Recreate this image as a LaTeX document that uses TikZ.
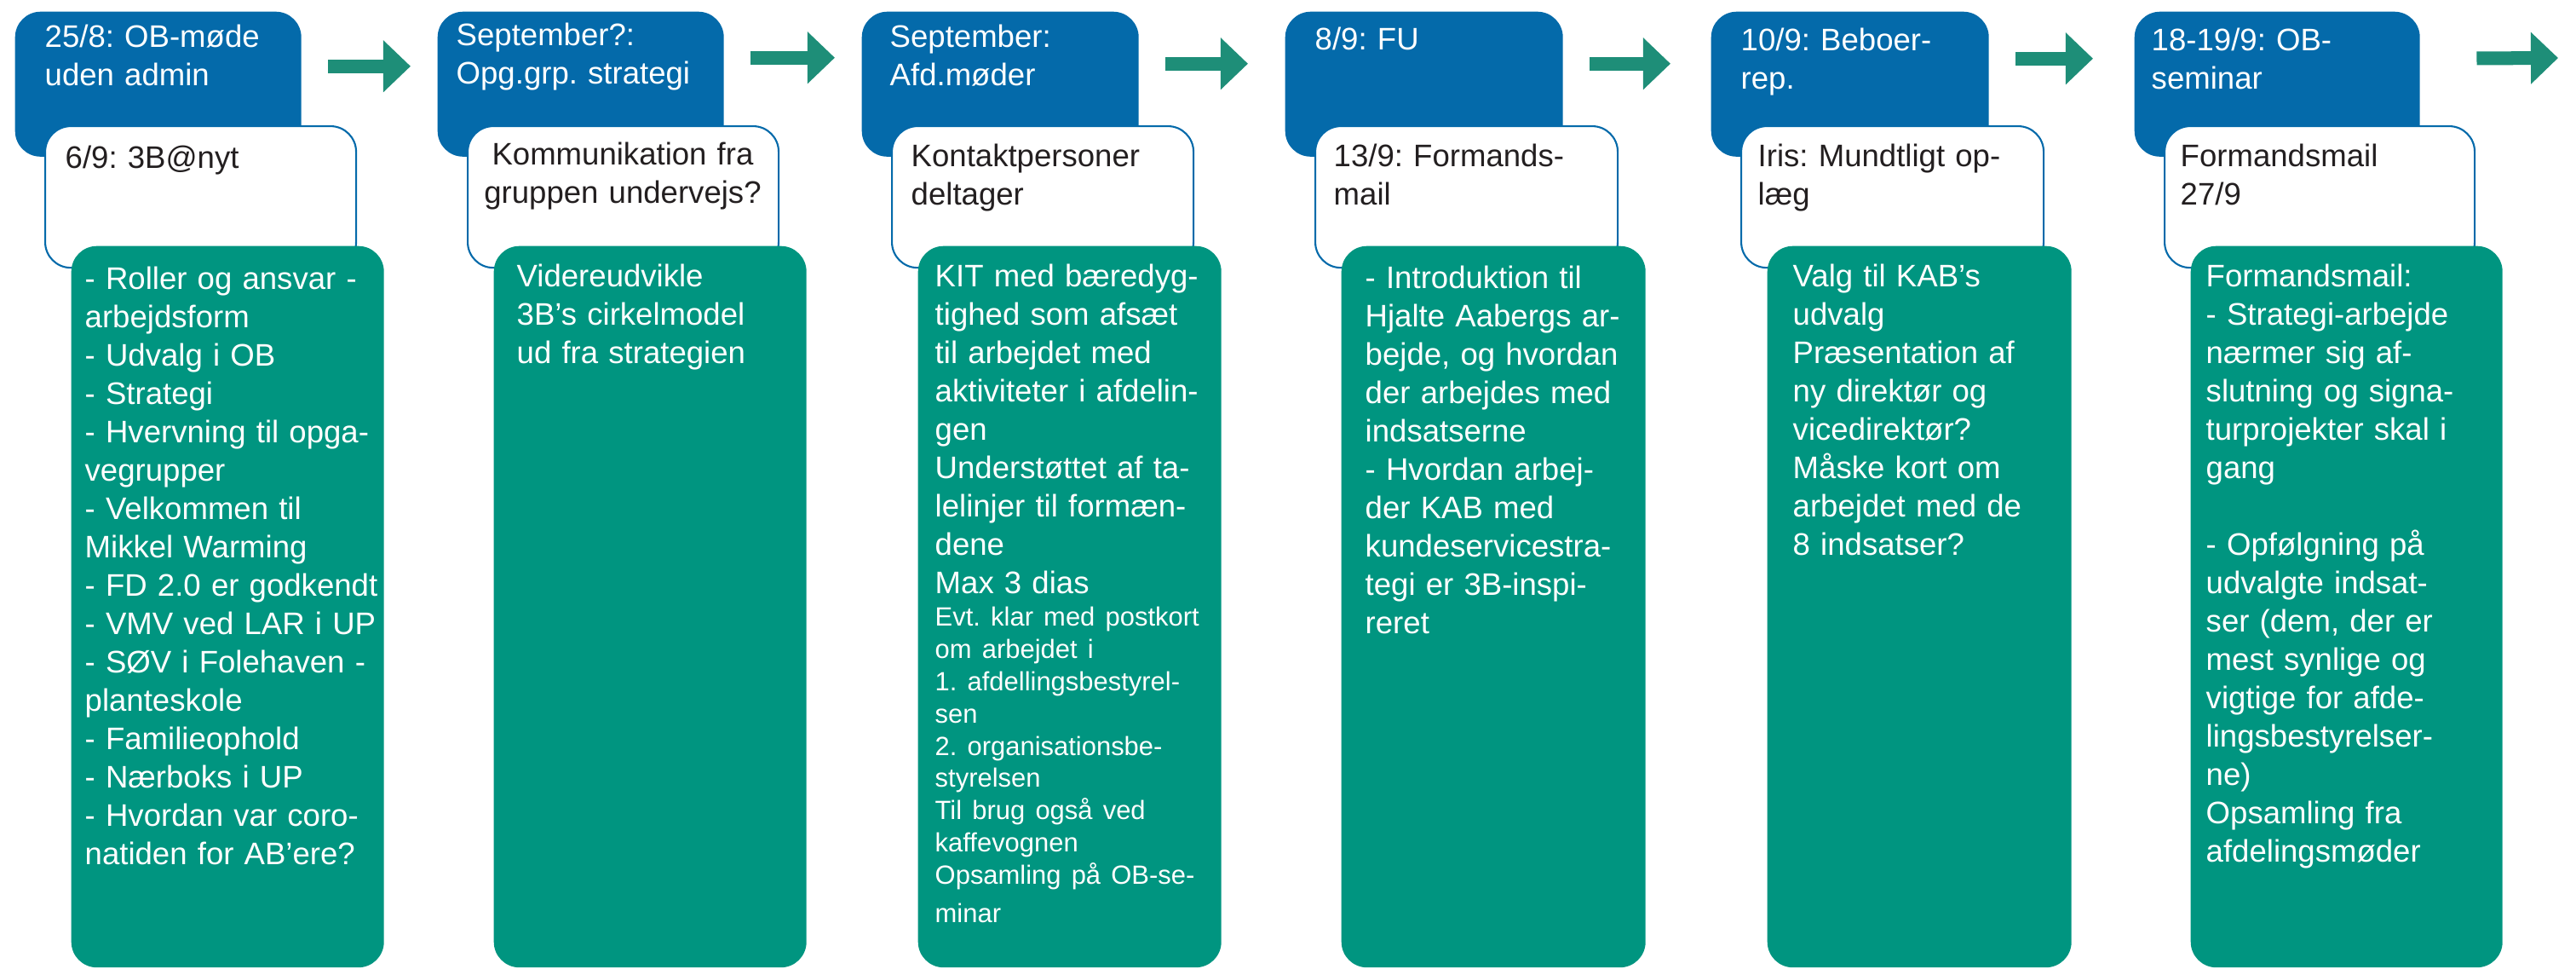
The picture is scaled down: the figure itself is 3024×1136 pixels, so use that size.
\documentclass[tikz,border=0pt]{standalone}
\usepackage{fontspec}
\setmainfont{Liberation Sans}
\usetikzlibrary{arrows.meta,positioning}
\definecolor{kabblue}{RGB}{4,106,170}
\definecolor{kabgreen}{RGB}{0,149,128}
\definecolor{arrowgreen}{RGB}{30,142,120}
\definecolor{inkdark}{RGB}{35,31,32}
\frenchspacing

\begin{document}
\begin{tikzpicture}[
  x=0.01cm, y=-0.01cm,
  box/.style={anchor=north west,inner sep=0pt,rounded corners=0.3cm},
  datebox/.style={box,fill=kabblue,minimum height=1.70cm},
  notebox/.style={box,fill=white,draw=kabblue,line width=0.6pt,minimum height=1.66cm},
  taskbox/.style={box,fill=kabgreen,minimum height=8.46cm},
  txt/.style={anchor=base west,inner sep=0pt,align=left,text width=4cm,
    font=\fontsize{10.4}{12.8}\selectfont\frenchspacing},
  datetxt/.style={txt,text=white},
  notetxt/.style={txt,text=inkdark},
  tasktxt/.style={txt,text=white},
  flow/.style={draw=arrowgreen,line width=0.16cm,
    -{Triangle[length=0.32cm,width=0.59cm]}}
]
  \fill[white] (0,0) rectangle (3024,1136);
  \useasboundingbox (0,0) rectangle (3024,1136);

  \foreach \i/\x/\w in {1/17/336,2/513/336,3/1011/325,4/1508/326,5/2008/326,6/2505/335}{
    \node[datebox,minimum width=\w*0.01cm] (date\i) at (\x,13) {};
    \node[notebox,minimum width=(\w+29)*0.01cm] (note\i) at (\x+35,147) {};
    \node[taskbox,minimum width=(\w+31)*0.01cm] (task\i) at (\x+66,288) {};
  }

  \foreach \i/\j/\d/\s in {1/2/0.21/0.31,2/3/0.31/0.31,3/4/0.24/0.43,4/5/0.24/0.47,5/6/0.30/0.48}
    \draw[flow,shorten <=0.31cm,shorten >=\s cm] ([yshift=\d cm]date\i.east) -- ([yshift=\d cm]date\j.west);
  \coordinate (next) at (3003,68);
  \draw[flow,shorten <=0.66cm] ([yshift=0.30cm]date6.east) -- (next);

  \node[datetxt] (date1text) at ([shift={(35,42)}]date1.north west) {25/8: OB-møde\\uden admin};
  \node[notetxt] (note1text) at ([shift={(24,50)}]note1.north west) {6/9: 3B@nyt};
  \node[tasktxt] (task1text) at ([shift={(16,51)}]task1.north west)
    {- Roller og ansvar -\\arbejdsform\\- Udvalg i OB\\- Strategi\\- Hvervning til opga-\\vegrupper\\
     - Velkommen til\\Mikkel Warming\\- FD 2.0 er godkendt\\- VMV ved LAR i UP\\- SØV i Folehaven -\\
     planteskole\\- Familieophold\\- Nærboks i UP\\- Hvordan var coro-\\natiden for AB’ere?};

  \node[datetxt] (date2text) at ([shift={(22,40)}]date2.north west) {September?:\\Opg.grp. strategi};
  \node[notetxt,anchor=base,align=center,text width=3.4cm] (note2text) at ([shift={(183,46)}]note2.north west)
    {Kommunikation fra\\gruppen undervejs?};
  \node[tasktxt] (task2text) at ([shift={(27,48)}]task2.north west)
    {Videreudvikle\\3B’s cirkelmodel\\ud fra strategien};

  \node[datetxt] (date3text) at ([shift={(33,42)}]date3.north west) {September:\\Afd.møder};
  \node[notetxt] (note3text) at ([shift={(23,48)}]note3.north west) {Kontaktpersoner\\deltager};
  \node[tasktxt] (task3text) at ([shift={(20,48)}]task3.north west)
    {KIT med bæredyg-\\tighed som afsæt\\til arbejdet med\\aktiviteter i afdelin-\\gen\\
     Understøttet af ta-\\lelinjer til formæn-\\dene\\Max 3 dias\par
     \fontsize{8.8}{10.8}\selectfont
     Evt. klar med postkort\\om arbejdet i\\1. afdellingsbestyrel-\\sen\\2. organisationsbe-\\styrelsen\\
     Til brug også ved\\kaffevognen\\Opsamling på OB-se-\\minar};

  \node[datetxt] (date4text) at ([shift={(35,45)}]date4.north west) {8/9: FU};
  \node[notetxt] (note4text) at ([shift={(22,48)}]note4.north west) {13/9: Formands-\\mail};
  \node[tasktxt] (task4text) at ([shift={(28,50)}]task4.north west)
    {- Introduktion til\\Hjalte Aabergs ar-\\bejde, og hvordan\\der arbejdes med\\indsatserne\\
     - Hvordan arbej-\\der KAB med\\kundeservicestra-\\tegi er 3B-inspi-\\reret};

  \node[datetxt] (date5text) at ([shift={(35,46)}]date5.north west) {10/9: Beboer-\\rep.};
  \node[notetxt] (note5text) at ([shift={(20,48)}]note5.north west) {Iris: Mundtligt op-\\læg};
  \node[tasktxt] (task5text) at ([shift={(30,48)}]task5.north west)
    {Valg til KAB’s\\udvalg\\Præsentation af\\ny direktør og\\vicedirektør?\\Måske kort om\\
     arbejdet med de\\8 indsatser?};

  \node[datetxt] (date6text) at ([shift={(20,46)}]date6.north west) {18-19/9: OB-\\seminar};
  \node[notetxt] (note6text) at ([shift={(19,48)}]note6.north west) {Formandsmail\\27/9};
  \node[tasktxt] (task6text) at ([shift={(18,48)}]task6.north west)
    {Formandsmail:\\- Strategi-arbejde\\nærmer sig af-\\slutning og signa-\\turprojekter skal i\\gang\\[12.8pt]
     - Opfølgning på\\udvalgte indsat-\\ser (dem, der er\\mest synlige og\\vigtige for afde-\\
     lingsbestyrelser-\\ne)\\Opsamling fra\\afdelingsmøder};
\end{tikzpicture}
\end{document}
